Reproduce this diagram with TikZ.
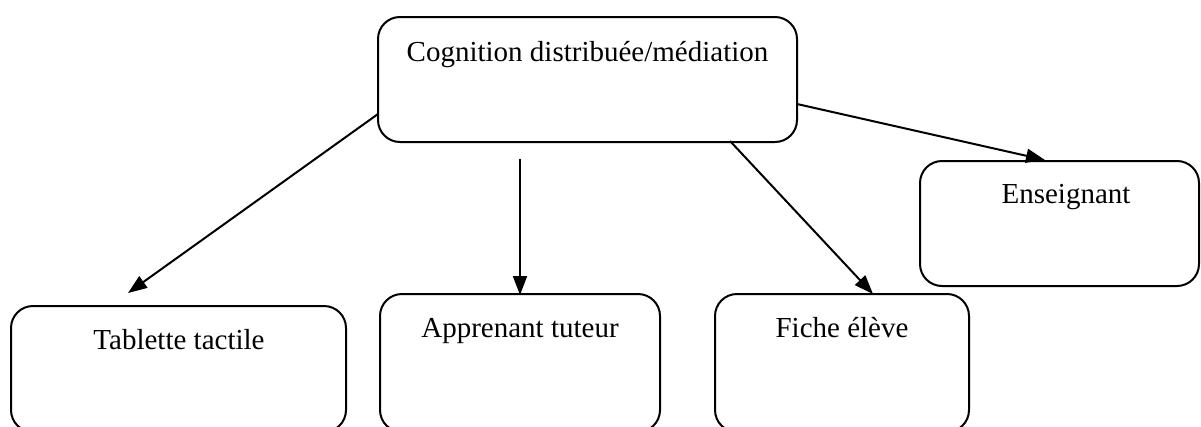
\documentclass[tikz,border=0pt]{standalone}
\usepackage{fontspec}
\setmainfont{Liberation Serif}
\usetikzlibrary{arrows.meta}
\begin{document}
\begin{tikzpicture}[x=1pt,y=-1pt,
  box/.style={draw=black,line width=2pt,rounded corners=22pt,inner sep=0pt},
  lbl/.style={anchor=base,inner sep=0pt,font=\fontsize{29}{34}\selectfont},
  conn/.style={line width=2pt,-{Triangle[length=19pt,width=14pt]}}]
\useasboundingbox (0,0) rectangle (1201,426);
\begin{scope}
\clip (0,0) rectangle (1201,426);
\node[box,minimum width=419pt,minimum height=125pt] (top) at (587.5,79.5) {};
\node[box,minimum width=335pt,minimum height=126pt] (tab) at (178.5,369) {};
\node[box,minimum width=280pt,minimum height=138pt] (app) at (520,363) {};
\node[box,minimum width=254pt,minimum height=138pt] (fic) at (842,363) {};
\node[box,minimum width=279pt,minimum height=125pt] (ens) at (1059.5,223.5) {};
\end{scope}
\node[lbl] (ttop) at (587.5,61) {Cognition distribuée/médiation};
\node[lbl] (ttab) at (179,349) {Tablette tactile};
\node[lbl] (tapp) at (520,337) {Apprenant tuteur};
\node[lbl] (tfic) at (842,337) {Fiche élève};
\node[lbl] (tens) at (1066,203) {Enseignant};
\coordinate (s1) at (378,114);
\coordinate (e1) at (128,293);
\coordinate (s2) at (520,159);
\coordinate (e2) at (520,295);
\coordinate (s3) at (730,141);
\coordinate (e3) at (873,294);
\coordinate (s4) at (797,104);
\coordinate (e4) at (1045,160);
\draw[conn] (s1) -- (e1);
\draw[conn] (s2) -- (e2);
\draw[conn] (s3) -- (e3);
\draw[conn] (s4) -- (e4);
\end{tikzpicture}
\end{document}
